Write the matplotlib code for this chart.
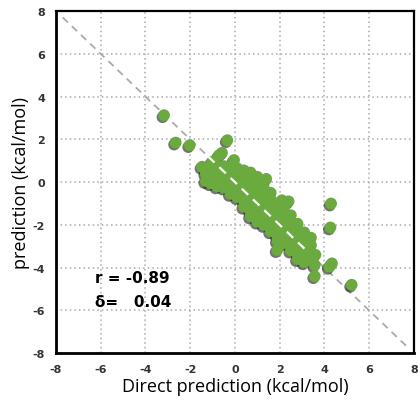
import matplotlib
matplotlib.use("Agg")
import matplotlib.pyplot as plt
import matplotlib.transforms as mtransforms

# ---- data ----
outlier_x = [-3.17, -2.65, -2.02, -0.34, -0.58, -0.71, -1.02, -1.47, -0.04,
             4.30, 4.27, 4.34, 4.22, 3.57, 3.57, 5.22, 1.89, 2.78, 2.10, 2.40, 1.40, 3.60]
outlier_y = [3.13, 1.85, 1.73, 1.96, 1.37, 1.26, 0.95, 0.72, 1.03,
             -1.00, -2.12, -3.80, -3.96, -4.40, -3.88, -4.80, -3.18, -1.95, -0.85, -0.90, 0.15, -3.40]

band_x_cols = [-1.3, -1.1, -0.8, -0.5, -0.2, 0.1, 0.4, 0.7, 1.0, 1.3, 1.6, 1.9, 2.2, 2.5, 2.8, 3.1, 3.4]
band_y_cols = [
    [0.40, 0.05],
    [0.60, 0.25, -0.05],
    [0.70, 0.40, 0.05, -0.20],
    [0.75, 0.45, 0.10, -0.25],
    [0.70, 0.40, 0.05, -0.30, -0.55],
    [0.65, 0.30, -0.05, -0.40, -0.70],
    [0.55, 0.20, -0.15, -0.50, -0.85, -1.15],
    [0.45, 0.10, -0.25, -0.60, -0.95, -1.35, -1.60],
    [0.25, -0.10, -0.45, -0.80, -1.15, -1.50, -1.85],
    [0.05, -0.30, -0.65, -1.00, -1.35, -1.70, -2.00],
    [-0.50, -0.80, -1.10, -1.40, -1.75, -2.05, -2.30],
    [-1.00, -1.30, -1.60, -1.90, -2.20, -2.50, -2.75],
    [-1.20, -1.50, -1.85, -2.15, -2.50, -2.85],
    [-1.55, -1.90, -2.25, -2.60, -2.90, -3.20],
    [-1.95, -2.30, -2.65, -3.00, -3.30, -3.60],
    [-2.35, -2.70, -3.05, -3.40, -3.75],
    [-2.60, -2.95, -3.30, -3.60],
]

xticks = [-8, -6, -4, -2, 0, 2, 4, 6, 8]
yticks = [-8, -6, -4, -2, 0, 2, 4, 6, 8]
r_text = "r = -0.89"
d_text = "δ=   0.04"

# ---- assemble points ----
px = list(outlier_x)
py = list(outlier_y)
for cx, ys in zip(band_x_cols, band_y_cols):
    for yv in ys:
        px.append(cx)
        py.append(yv)

fig = plt.figure(figsize=(4.18, 4.02), dpi=100)
ax = fig.add_axes([0.134, 0.119, 0.856, 0.851])

ax.set_xlim(-8, 8)
ax.set_ylim(-8, 8)
ax.set_xticks(xticks)
ax.set_yticks(yticks)
ax.set_xticklabels([str(t) for t in xticks])
ax.set_yticklabels([str(t) for t in yticks])
ax.tick_params(length=0, labelsize=8, pad=8)
for lab in ax.get_xticklabels() + ax.get_yticklabels():
    lab.set_fontweight('bold')
    lab.set_color('#333333')

ax.grid(True, color='#aaaaaa', linestyle=(0, (1, 2)), linewidth=1.1)
ax.set_axisbelow(True)
for s in ax.spines.values():
    s.set_color('black')
    s.set_linewidth(1.6)
ax.spines['left'].set_linewidth(2)
ax.spines['bottom'].set_linewidth(2)

# diagonal reference line
ax.plot([-7.7, 7.7], [7.7, -7.7], color='#aaaaaa', linestyle=(0, (4, 3)), linewidth=1.3, zorder=2)

# shadow + points
shadow_tr = mtransforms.offset_copy(ax.transData, fig=fig, x=-1.5, y=-2.0, units='dots')
ax.scatter(px, py, s=72, color='#1a1a1a', alpha=0.6, edgecolors='none', zorder=3,
           transform=shadow_tr)
ax.scatter(px, py, s=72, color='#6aaa3e', edgecolors='none', zorder=3.5)

# white part of the line over the dense cluster
ax.plot([-1.2, 3.3], [1.2, -3.3], color='white', linestyle=(0, (4, 3)), linewidth=1.6, zorder=4)

ax.text(-6.25, -4.46, r_text, fontsize=11, fontweight='bold', va='center', ha='left', family='DejaVu Sans')
ax.text(-6.25, -5.6, d_text, fontsize=11, fontweight='bold', va='center', ha='left', family='DejaVu Sans')

ax.set_xlabel('Direct prediction (kcal/mol)', fontsize=13, family='Open Sans', labelpad=2)
ax.set_ylabel('prediction (kcal/mol)', fontsize=13, family='Open Sans', labelpad=2)

fig.savefig('out.png', dpi=100)
